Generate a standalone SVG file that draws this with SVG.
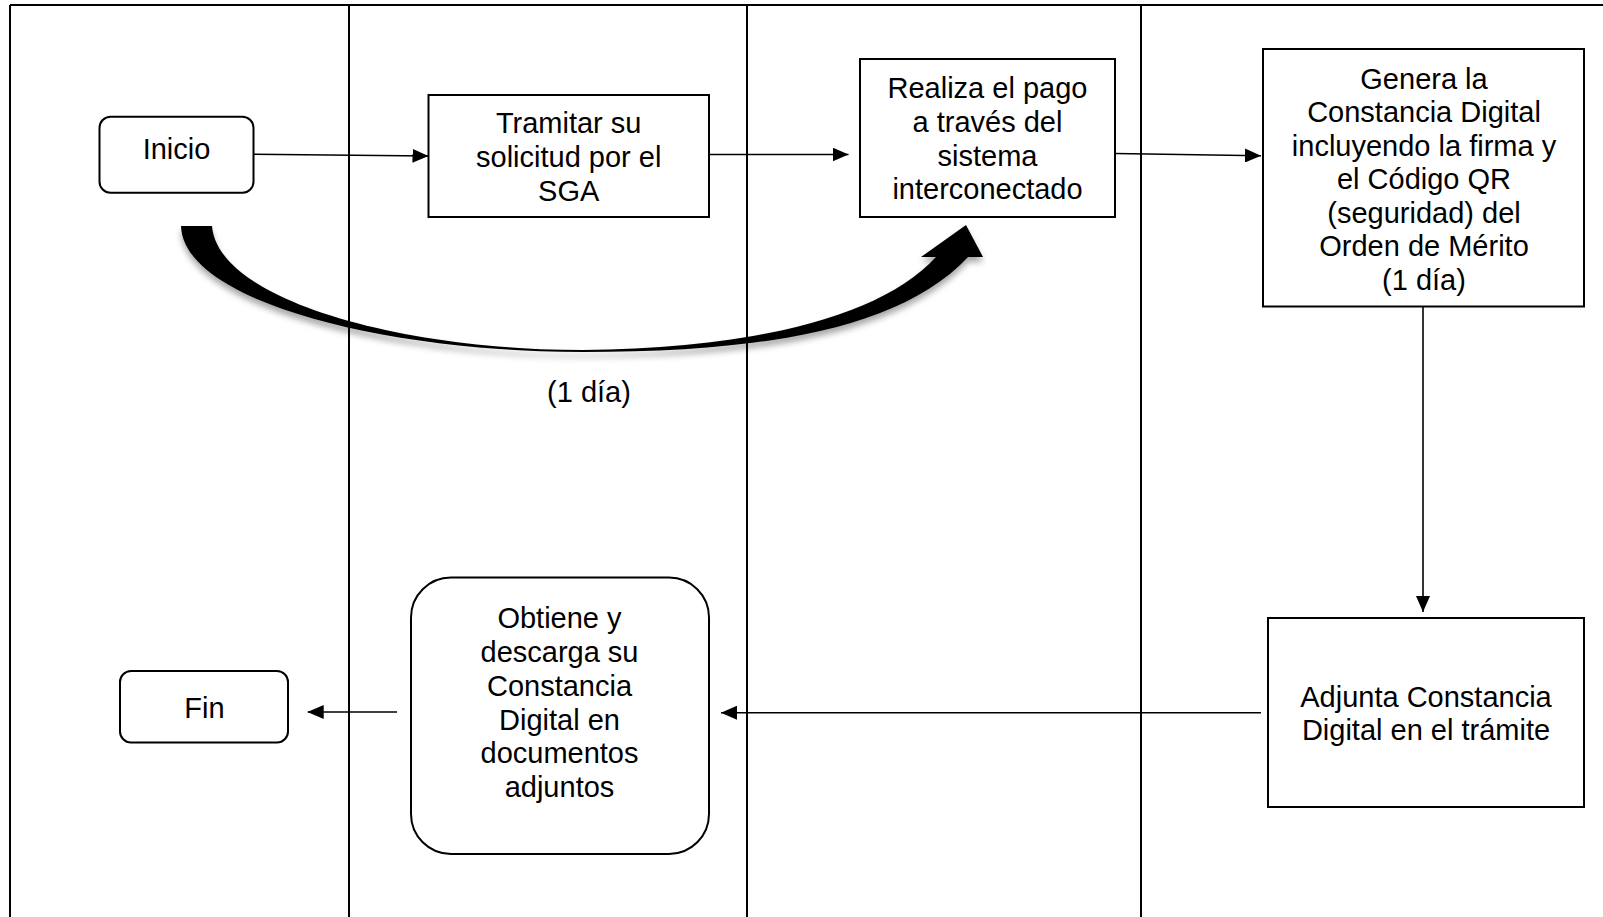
<svg xmlns="http://www.w3.org/2000/svg" width="1603" height="917" viewBox="0 0 1603 917">
<style>
  .frame { stroke:#000; stroke-width:2; fill:none; }
  .box { fill:#fff; stroke:#000; stroke-width:2; }
  .conn { stroke:#000; stroke-width:1.6; fill:none; }
  text { font-family:"Liberation Sans", Arial, sans-serif; font-size:29px; fill:#000; text-anchor:middle; }
</style>
<defs>
  <marker id="arr" viewBox="0 0 16 14" refX="16" refY="7" markerWidth="16" markerHeight="14" markerUnits="userSpaceOnUse" orient="auto">
    <path d="M0,0 L16,7 L0,14 Z" fill="#000"/>
  </marker>
  <filter id="shadow" x="-10%" y="-20%" width="120%" height="150%">
    <feDropShadow dx="0" dy="5" stdDeviation="3" flood-color="#000" flood-opacity="0.35"/>
  </filter>
</defs>
<rect width="1603" height="917" fill="#fff"/>
<g id="frame">
  <line class="frame" x1="10" y1="5" x2="1603" y2="5"/>
  <line class="frame" x1="10" y1="5" x2="10" y2="917"/>
  <line class="frame" x1="349" y1="5" x2="349" y2="917"/>
  <line class="frame" x1="747" y1="5" x2="747" y2="917"/>
  <line class="frame" x1="1141" y1="5" x2="1141" y2="917"/>
</g>
<g id="connectors">
  <line class="conn" x1="254" y1="154.3" x2="428.5" y2="156" marker-end="url(#arr)"/>
  <line class="conn" x1="709" y1="154.5" x2="848.5" y2="154.5" marker-end="url(#arr)"/>
  <line class="conn" x1="1115" y1="153.5" x2="1261" y2="155.7" marker-end="url(#arr)"/>
  <line class="conn" x1="1423" y1="307" x2="1423" y2="612" marker-end="url(#arr)"/>
  <line class="conn" x1="1261" y1="712.7" x2="721" y2="712.7" marker-end="url(#arr)"/>
  <line class="conn" x1="397" y1="712" x2="307.7" y2="712" marker-end="url(#arr)"/>
  <path id="curved-arrow" filter="url(#shadow)" fill="#000" d="M181,226 C183,300 380,352 583,352 C760,352 900,330 968,257 L983,257 L966,225 L921,257 L936,257 C880,318 750,348.5 583,350 C400,350 218,300 212,226 Z"/>
</g>
<g id="label-1dia"><text x="589" y="402">(1 día)</text></g>
<g id="inicio">
  <rect class="box" x="99.5" y="116.7" width="154" height="76" rx="11"/>
  <text x="176.5" y="159">Inicio</text>
</g>
<g id="tramitar">
  <rect class="box" x="428.5" y="95" width="280.5" height="122"/>
  <text x="568.7" y="133.3">Tramitar su</text>
  <text x="568.7" y="167">solicitud por el</text>
  <text x="568.7" y="200.7">SGA</text>
</g>
<g id="realiza">
  <rect class="box" x="860" y="59" width="255" height="158"/>
  <text x="987.5" y="98.3">Realiza el pago</text>
  <text x="987.5" y="132">a través del</text>
  <text x="987.5" y="165.7">sistema</text>
  <text x="987.5" y="199.4">interconectado</text>
</g>
<g id="genera">
  <rect class="box" x="1263" y="49" width="321" height="257.5"/>
  <text x="1424" y="88.5">Genera la</text>
  <text x="1424" y="122">Constancia Digital</text>
  <text x="1424" y="155.5">incluyendo la firma y</text>
  <text x="1424" y="189">el Código QR</text>
  <text x="1424" y="222.5">(seguridad) del</text>
  <text x="1424" y="256">Orden de Mérito</text>
  <text x="1424" y="289.5">(1 día)</text>
</g>
<g id="adjunta">
  <rect class="box" x="1268" y="618" width="316" height="189"/>
  <text x="1426" y="706.7">Adjunta Constancia</text>
  <text x="1426" y="740">Digital en el trámite</text>
</g>
<g id="obtiene">
  <rect class="box" x="411" y="577.5" width="298" height="276.5" rx="40"/>
  <text x="559.5" y="628.3">Obtiene y</text>
  <text x="559.5" y="662">descarga su</text>
  <text x="559.5" y="695.8">Constancia</text>
  <text x="559.5" y="729.6">Digital en</text>
  <text x="559.5" y="763.4">documentos</text>
  <text x="559.5" y="797.2">adjuntos</text>
</g>
<g id="fin">
  <rect class="box" x="120" y="671" width="168" height="71.5" rx="11"/>
  <text x="204.5" y="717.7">Fin</text>
</g>
</svg>
